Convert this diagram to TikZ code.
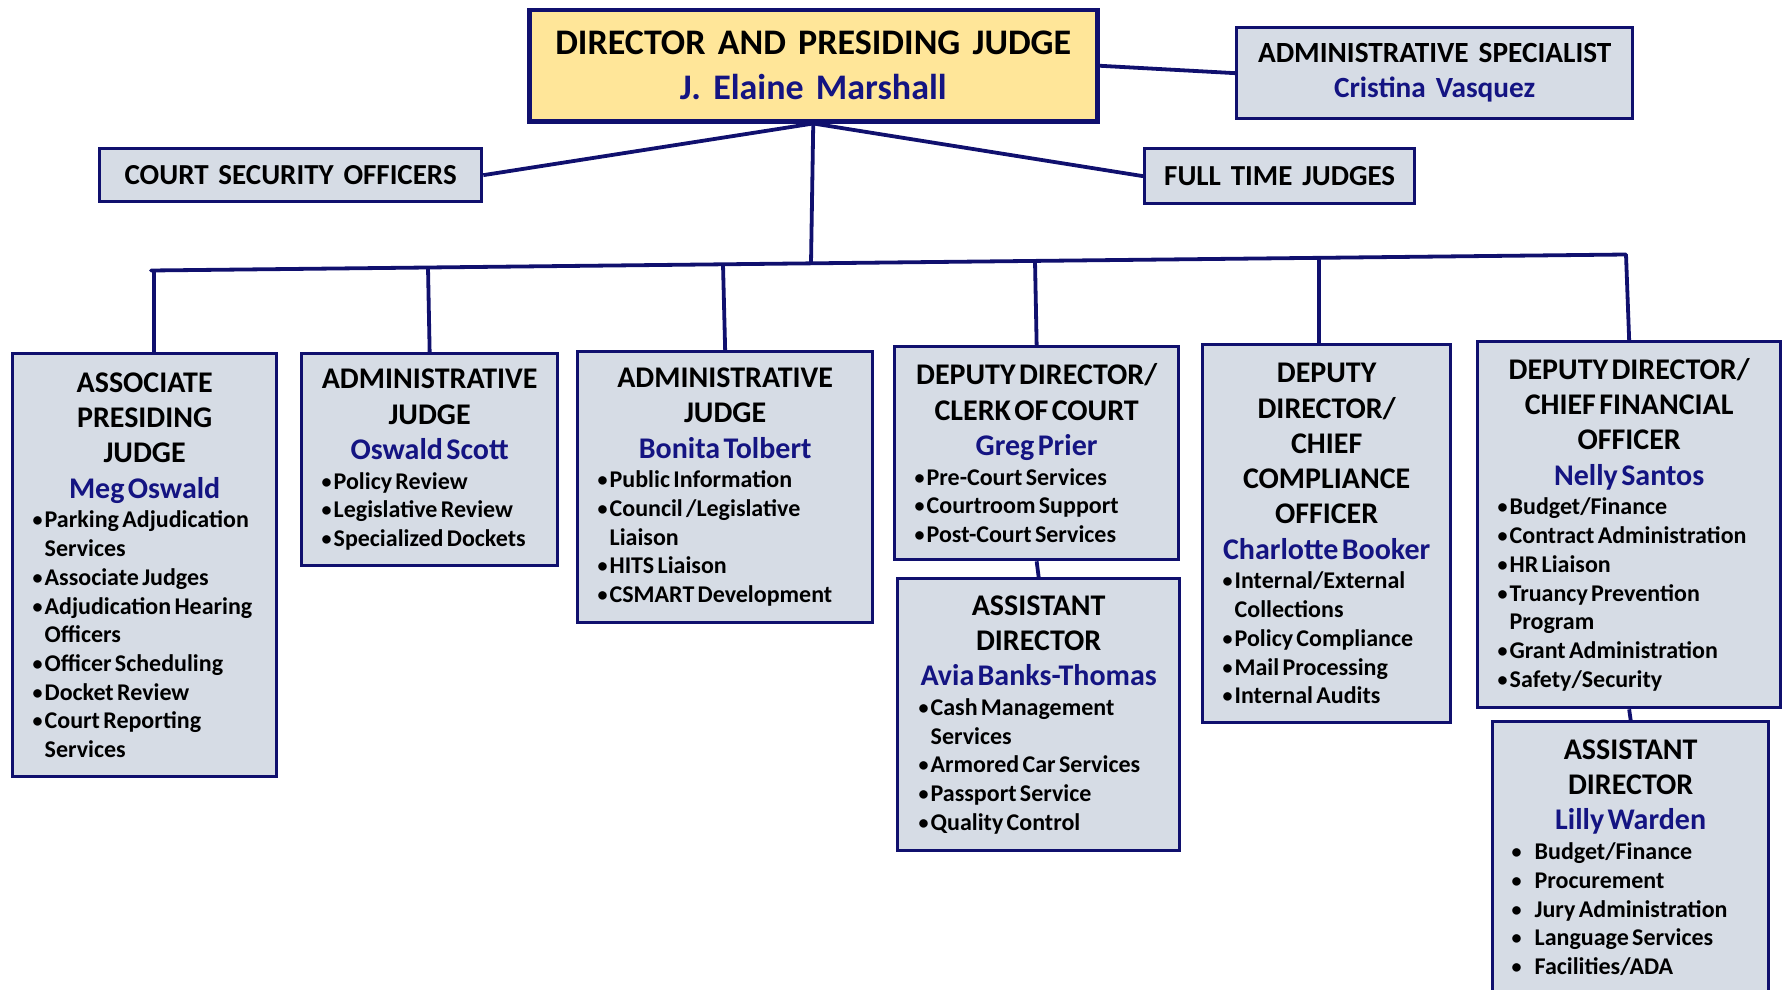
\documentclass[tikz,border=0pt]{standalone}
\usepackage{fontspec}
\setmainfont{Carlito}[WordSpace=1.5]
\usetikzlibrary{calc}

\definecolor{navy}{RGB}{16,16,110}
\definecolor{namecol}{RGB}{20,20,130}
\definecolor{boxfill}{RGB}{214,220,229}
\definecolor{topfill}{RGB}{255,230,153}

\newlength\bulw
\newcommand\headfont{\fontsize{30}{35.3}\selectfont\bfseries}
\newcommand\listfont{\fontsize{24}{28.7}\selectfont\bfseries}
\newcommand\who[1]{{\color{namecol}#1}}
\newcommand\bul[1]{\par\hangindent=\bulw\hangafter=1\noindent
  \makebox[\bulw][l]{\raisebox{1pt}{\fontsize{20}{0}\selectfont\textbullet}}#1}
\newcommand\startlist[2]{\par\listfont\raggedright\leftskip=#1pt\setlength\bulw{#2pt}\vspace{1pt}}

\begin{document}
\begin{tikzpicture}[x=1pt, y=-1pt,
    orgline/.style={draw=navy, line width=3.8pt},
    unitbox/.style n args={2}{draw=navy, line width=3.3pt, fill=boxfill, anchor=north west,
      inner sep=0pt, minimum width=#1pt, text width=#1pt, minimum height=#2pt},
    smallbox/.style n args={2}{draw=navy, line width=3.3pt, fill=boxfill, anchor=north west,
      inner sep=0pt, minimum width=#1pt, minimum height=#2pt, align=center,
      font=\fontsize{29}{34}\selectfont\bfseries}]
  \useasboundingbox (0,0) rectangle (1786,990);

  % Drawing box director
  \node [draw=navy, line width=4.5pt, fill=topfill, anchor=north west, inner sep=0pt,
    minimum width=568pt, minimum height=111pt, align=center,
    font=\fontsize{36}{45}\selectfont\bfseries] (dir) at (527,8)
    {DIRECTOR AND PRESIDING JUDGE\\\who{J. Elaine Marshall}};

  % Drawing box administrative specialist
  \node [smallbox={396}{91}, font=\fontsize{29.3}{35}\selectfont\bfseries] (spec) at (1235,26)
    {ADMINISTRATIVE SPECIALIST\\\who{Cristina Vasquez}};

  % Drawing box court security officers
  \node [smallbox={382}{53}] (cso) at (98,147) {COURT SECURITY OFFICERS};

  % Drawing box full time judges
  \node [smallbox={270}{55}] (ftj) at (1143,147) {FULL TIME JUDGES};

  % Drawing box associate presiding judge
  \node [unitbox={264}{423}] (assoc) at (11,352)
    {{\centering\headfont ASSOCIATE\\PRESIDING\\JUDGE\\\who{Meg Oswald}\par}%
     \startlist{20}{12}%
     \bul{Parking Adjudication\newline Services}
     \bul{Associate Judges}
     \bul{Adjudication Hearing\newline Officers}
     \bul{Officer Scheduling}
     \bul{Docket Review}
     \bul{Court Reporting\newline Services}\par};

  % Drawing box administrative judge (Scott)
  \node [unitbox={256}{212}] (admA) at (300,352)
    {{\centering\headfont ADMINISTRATIVE\\JUDGE\\\who{Oswald Scott}\par}%
     \startlist{20}{12}%
     \bul{Policy Review}
     \bul{Legislative Review}
     \bul{Specialized Dockets}\par};

  % Drawing box administrative judge (Tolbert)
  \node [unitbox={295}{271}] (admB) at (576,350)
    {{\centering\headfont ADMINISTRATIVE\\JUDGE\\\who{Bonita Tolbert}\par}%
     \startlist{20}{12}%
     \bul{Public Information}
     \bul{Council /Legislative\newline Liaison}
     \bul{HITS Liaison}
     \bul{CSMART Development}\par};

  % Drawing box clerk of court
  \node [unitbox={284}{213}] (clerk) at (893,345)
    {{\centering\headfont DEPUTY DIRECTOR/\\CLERK OF COURT\\\who{Greg Prier}\par}%
     \startlist{20}{12}%
     \bul{Pre-Court Services}
     \bul{Courtroom Support}
     \bul{Post-Court Services}\par};

  % Drawing box assistant director (Banks-Thomas)
  \node [unitbox={282}{272}] (asstA) at (896,577)
    {{\centering\headfont ASSISTANT\\DIRECTOR\\\who{Avia Banks-Thomas}\par}%
     \startlist{21}{12}%
     \bul{Cash Management\newline Services}
     \bul{Armored Car Services}
     \bul{Passport Service}
     \bul{Quality Control}\par};

  % Drawing box chief compliance officer
  \node [unitbox={248}{378}] (comp) at (1201,343)
    {{\centering\headfont DEPUTY\\DIRECTOR/\\CHIEF\\COMPLIANCE\\OFFICER\\\who{Charlotte Booker}\par}%
     \startlist{20}{12}%
     \bul{Internal/External\newline Collections}
     \bul{Policy Compliance}
     \bul{Mail Processing}
     \bul{Internal Audits}\par};

  % Drawing box chief financial officer
  \node [unitbox={303}{366}] (cfo) at (1476,340)
    {{\centering\headfont DEPUTY DIRECTOR/\\CHIEF FINANCIAL\\OFFICER\\\who{Nelly Santos}\par}%
     \startlist{20}{12}%
     \bul{Budget/Finance}
     \bul{Contract Administration}
     \bul{HR Liaison}
     \bul{Truancy Prevention\newline Program}
     \bul{Grant Administration}
     \bul{Safety/Security}\par};

  % Drawing box assistant director (Warden)
  \node [unitbox={276}{272}] (asstB) at (1491,720)
    {{\centering\headfont ASSISTANT\\DIRECTOR\\\who{Lilly Warden}\par}%
     \startlist{19}{23}%
     \bul{Budget/Finance}
     \bul{Procurement}
     \bul{Jury Administration}
     \bul{Language Services}
     \bul{Facilities/ADA}\par};

  % Marking bus points
  \coordinate (busL) at (151,270.5);
  \coordinate (busR) at (1626,254.5);
  \coordinate (jDir) at (811,263.4);
  \coordinate (jAssoc) at (154,270.5);
  \coordinate (jAdmA) at (428,267.5);
  \coordinate (jAdmB) at (723,264.4);
  \coordinate (jClerk) at (1035,261);
  \coordinate (jComp) at (1319,257.9);

  % Drawing lines from director
  \draw [orgline] (dir.south) -- (jDir);
  \draw [orgline] (dir.south) -- (cso.east);
  \draw [orgline] (dir.south) -- (ftj.west);
  \draw [orgline] (dir.east) -- (spec.west);

  % Drawing bus line
  \draw [orgline, line cap=round] (busL) -- (busR);

  % Drawing drops to the units
  \draw [orgline] (jAssoc) -- (assoc.north -| jAssoc);
  \draw [orgline] (jAdmA) -- (admA.north);
  \draw [orgline] (jAdmB) -- (admB.north);
  \draw [orgline] (jClerk) -- (clerk.north);
  \draw [orgline] (jComp) -- (comp.north -| jComp);
  \draw [orgline] (busR) -- (cfo.north);

  % Drawing lines to the assistant directors
  \draw [orgline] (clerk.south) -- (asstA.north);
  \draw [orgline] (cfo.south) -- (asstB.north);
\end{tikzpicture}
\end{document}
